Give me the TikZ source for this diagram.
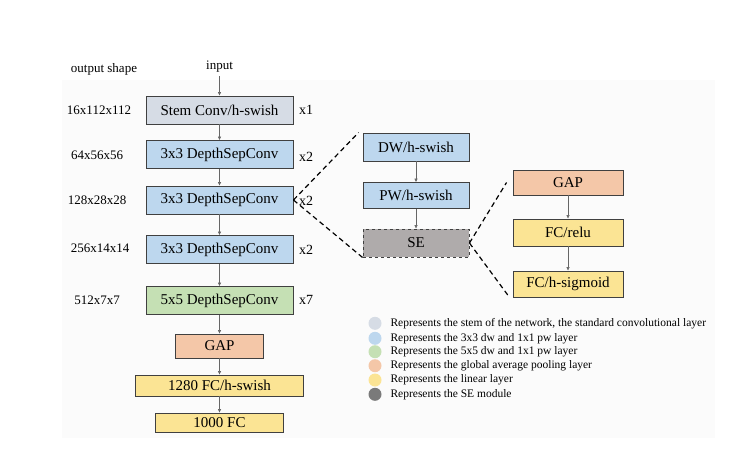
\documentclass[tikz,border=0pt]{standalone}
\usepackage{fontspec}
\setmainfont{Liberation Serif}
\usepackage{tikz}
\usetikzlibrary{arrows.meta}
\definecolor{stemgray}{HTML}{D6DCE5}
\definecolor{dwblue}{HTML}{BDD7EE}
\definecolor{dwgreen}{HTML}{C5E0B4}
\definecolor{gaporange}{HTML}{F4C7A8}
\definecolor{fcyellow}{HTML}{FBE494}
\definecolor{segray}{HTML}{AFABAB}
\definecolor{dotgray}{HTML}{7A7A7A}
\tikzset{
  layer/.style={draw=black!75, line width=0.9pt, inner sep=0pt, minimum height=28pt, font=\fontsize{15}{17}\selectfont},
  flow/.style={draw=black!60, line width=0.6pt, -{Triangle[length=3.5pt,width=3pt]}},
  zoomline/.style={line width=1.2pt, dash pattern=on 5pt off 3.5pt},
  side/.style={font=\fontsize{13}{15}\selectfont},
  legtext/.style={anchor=west, font=\fontsize{11.5}{13}\selectfont}
}

\begin{document}
\begin{tikzpicture}[x=1pt, y=-1pt]
		%%%%% START %%%%%
		\useasboundingbox (0, 0) rectangle (743, 473);
		\fill[black!1.5] (62, 80) rectangle (715, 438);
		
		\node[side] (outshape) at (104, 69) {output shape};
		\node[side] (input) at (219.5, 67) {input};
		
		% main column
		\node[layer, fill=stemgray, minimum width=147pt] (stem) at (219.5, 110) {Stem Conv/h-swish};
		\node[layer, fill=dwblue, minimum width=147pt] (dsca) at (219.5, 154.5) {3x3 DepthSepConv};
		\node[layer, fill=dwblue, minimum width=147pt] (dscb) at (219.5, 200) {3x3 DepthSepConv};
		\node[layer, fill=dwblue, minimum width=147pt] (dscc) at (219.5, 249.5) {3x3 DepthSepConv};
		\node[layer, fill=dwgreen, minimum width=147pt] (dscd) at (219.5, 300.5) {5x5 DepthSepConv};
		\node[layer, fill=gaporange, minimum width=88pt, minimum height=24pt] (gap) at (219.5, 346) {GAP};
		\node[layer, fill=fcyellow, minimum width=168pt, minimum height=21pt] (fca) at (219.5, 385.5) {1280 FC/h-swish};
		\node[layer, fill=fcyellow, minimum width=128pt, minimum height=19pt] (fcb) at (219.5, 422.5) {1000 FC};
		
		\draw[flow] (input) -- (stem);
		\draw[flow] (stem) -- (dsca);
		\draw[flow] (dsca) -- (dscb);
		\draw[flow] (dscb) -- (dscc);
		\draw[flow] (dscc) -- (dscd);
		\draw[flow] (dscd) -- (gap);
		\draw[flow] (gap) -- (fca);
		\draw[flow] (fca) -- (fcb);
		
		% output shapes
		\node[side] (shpa) at (99, 110) {16x112x112};
		\node[side] (shpb) at (97, 155) {64x56x56};
		\node[side] (shpc) at (97, 200) {128x28x28};
		\node[side] (shpd) at (100, 248) {256x14x14};
		\node[side] (shpe) at (97, 300) {512x7x7};
		
		% repeats
		\node[side, font=\fontsize{14}{16}\selectfont] (repa) at (306, 110) {x1};
		\node[side, font=\fontsize{14}{16}\selectfont] (repb) at (306, 157) {x2};
		\node[side, font=\fontsize{14}{16}\selectfont] (repc) at (306, 201) {x2};
		\node[side, font=\fontsize{14}{16}\selectfont] (repd) at (306, 250) {x2};
		\node[side, font=\fontsize{14}{16}\selectfont] (repe) at (306, 300) {x7};
		
		% depthwise separable block
		\node[layer, fill=dwblue, minimum width=106pt] (dw) at (416, 147) {DW/h-swish};
		\node[layer, fill=dwblue, minimum width=106pt, minimum height=26pt] (pw) at (416, 195.5) {PW/h-swish};
		\node[layer, fill=segray, minimum width=106pt, dashed] (se) at (416, 243) {SE};
		\draw[flow] (dw) -- (pw);
		\draw[flow] (pw) -- (se);
		
		\draw[zoomline] (dscb.east) -- ([xshift=-4pt]dw.north west);
		\draw[zoomline] (dscb.east) -- (se.south west);
		
		% SE module
		\node[layer, fill=gaporange, minimum width=110pt, minimum height=25pt] (segap) at (568, 182.5) {GAP};
		\node[layer, fill=fcyellow, minimum width=110pt, minimum height=27pt] (relu) at (568, 232.5) {FC/relu};
		\node[layer, fill=fcyellow, minimum width=110pt, minimum height=26pt] (sigm) at (568, 284) {FC/h-sigmoid};
		\draw[flow] (segap) -- (relu);
		\draw[flow] (relu) -- (sigm);
		
		\draw[zoomline] (se.east) -- ([xshift=-6pt]segap.west);
		\draw[zoomline] (se.east) -- ([xshift=-3pt]sigm.south west);
		
		% legend
		\fill[stemgray] (375, 323.3) circle (6.5);
		\node[legtext] (lega) at (387, 323.3) {Represents the stem of the network, the standard convolutional layer};
		\fill[dwblue] (375, 338.3) circle (6.5);
		\node[legtext] (legb) at (387, 338.3) {Represents the 3x3 dw and 1x1 pw layer};
		\fill[dwgreen] (375, 351.7) circle (6.5);
		\node[legtext] (legc) at (387, 351.7) {Represents the 5x5 dw and 1x1 pw layer};
		\fill[gaporange] (375, 365.7) circle (6.5);
		\node[legtext] (legd) at (387, 365.7) {Represents the global average pooling layer};
		\fill[fcyellow] (375, 380) circle (6.5);
		\node[legtext] (lege) at (387, 380) {Represents the linear layer};
		\fill[dotgray] (375, 394.3) circle (6.5);
		\node[legtext] (legf) at (387, 394.3) {Represents the SE module};
		
		%%%%% END %%%%%
	\end{tikzpicture}
\end{document}
